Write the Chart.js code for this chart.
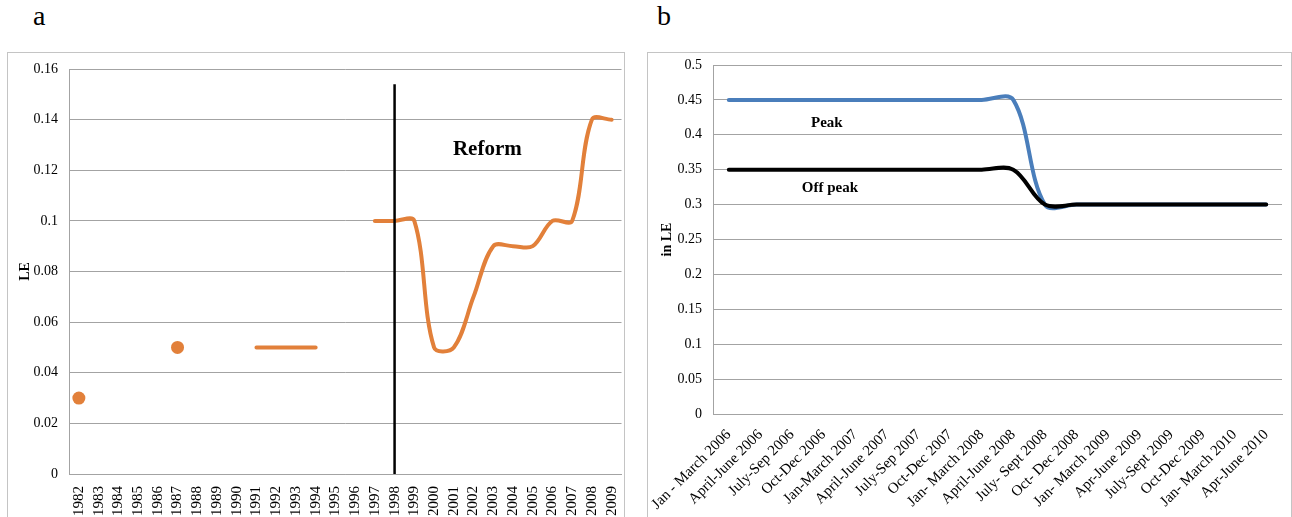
<!DOCTYPE html>
<html>
<head>
<meta charset="utf-8">
<script src="https://cdn.jsdelivr.net/npm/chart.js@4"></script>
<style>
  body { margin: 0; background: #fff; width: 1292px; height: 517px; overflow: hidden; position: relative; font-family: "Liberation Serif", serif; }
  .panel { position: absolute; top: 52px; height: 480px; border: 1px solid #c4c4c4; box-sizing: border-box; }
  .tag { position: absolute; top: 2px; font-size: 28px; line-height: 1; color: #000; }
  canvas { position: absolute; }
</style>
</head>
<body>
<div class="tag" style="left:33px">a</div>
<div class="tag" style="left:657px">b</div>
<div class="panel" style="left:7px; width:618px"></div>
<div class="panel" style="left:647px; width:645px"></div>
<canvas id="leChart" width="620" height="464" style="left:8px; top:53px"></canvas>
<canvas id="tariffChart" width="642" height="464" style="left:648px; top:53px"></canvas>
<script>
// panel a: LE by year
const years = ["1982","1983","1984","1985","1986","1987","1988","1989","1990","1991","1992","1993","1994","1995",
  "1996","1997","1998","1999","2000","2001","2002","2003","2004","2005","2006","2007","2008","2009"];
const leDots = [0.03,null,null,null,null,0.05,null,null,null,null,null,null,null,null,
  null,null,null,null,null,null,null,null,null,null,null,null,null,null];
const leLine = [null,null,null,null,null,null,null,null,null,0.05,0.05,0.05,0.05,null,
  null,0.1,0.1,0.1,0.05,0.05,0.07,0.09,0.09,0.09,0.1,0.1,0.14,0.14];
const reformYear = "1998";
const reformTop = 0.154;

// panel b: peak / off peak price
const quarters = ["Jan - March 2006","April-June 2006","July-Sep 2006","Oct-Dec 2006","Jan-March 2007",
  "April-June 2007","July-Sep 2007","Oct-Dec 2007","Jan- March 2008","April-June 2008","July- Sept 2008",
  "Oct- Dec 2008","Jan- March 2009","Apr-June 2009","July-Sept 2009","Oct-Dec 2009","Jan- March 2010","Apr-June 2010"];
const peak = [0.45,0.45,0.45,0.45,0.45,0.45,0.45,0.45,0.45,0.45,0.3,0.3,0.3,0.3,0.3,0.3,0.3,0.3];
const offPeak = [0.35,0.35,0.35,0.35,0.35,0.35,0.35,0.35,0.35,0.35,0.3,0.3,0.3,0.3,0.3,0.3,0.3,0.3];

// text labels inside the plots: [text, x index, y value]
const notesA = [["Reform", 20.7, 0.128]];
const notesB = [["Peak", 3.1, 0.417], ["Off peak", 3.2, 0.324]];

const orange = "#E2803A";
const gridGray = "#a3a3a3";
const serif = "Liberation Serif";

function notePlugin(notes, size) {
  return {
    id: 'notes',
    afterDatasetsDraw(chart) {
      const ctx = chart.ctx;
      const sx = chart.scales.x, sy = chart.scales.y;
      ctx.save();
      ctx.font = "bold " + size + "px " + serif;
      ctx.fillStyle = "#000";
      ctx.textAlign = "center";
      ctx.textBaseline = "middle";
      notes.forEach(n => ctx.fillText(n[0], sx.getPixelForValue(n[1]), sy.getPixelForValue(n[2])));
      ctx.restore();
    }
  };
}

// 0.10 -> "0.1", 0.50 -> "0.5"
const shortNum = v => String(+Number(v).toFixed(2));

// fixed axis sizes, no extra label padding so the plot area is where we want it
function fixX(h) {
  return s => { s.height = h; s.paddingLeft = 0; s.paddingRight = 0; };
}
function fixY(w) {
  return s => { s.width = w; s.paddingTop = 0; s.paddingBottom = 0; };
}

Chart.defaults.font.family = serif;
Chart.defaults.color = "#000";

new Chart(document.getElementById("leChart").getContext('2d'), {
  type: 'line',
  data: {
    labels: years,
    datasets: [
      {
        label: "reform",
        data: [{x: reformYear, y: 0}, {x: reformYear, y: reformTop}],
        borderColor: "#000", borderWidth: 2.5, pointRadius: 0, tension: 0, order: 0
      },
      {
        label: "LE",
        data: leLine,
        borderColor: orange, borderWidth: 4, pointRadius: 0, tension: 0.35,
        borderCapStyle: 'round', spanGaps: false, order: 1
      },
      {
        label: "LE points",
        data: leDots,
        showLine: false, pointRadius: 6.5, pointBackgroundColor: orange,
        pointBorderWidth: 0, borderColor: orange, order: 2
      }
    ]
  },
  options: {
    responsive: false,
    animation: false,
    layout: { padding: { top: 16, right: 3, left: 0, bottom: 0 } },
    plugins: { legend: { display: false }, tooltip: { enabled: false } },
    scales: {
      x: {
        offset: true,
        grid: { display: false },
        border: { display: true, color: gridGray },
        ticks: { autoSkip: false, minRotation: 90, maxRotation: 90, padding: 4, font: { size: 15 } },
        afterFit: fixX(43)
      },
      y: {
        min: 0, max: 0.16,
        grid: { color: gridGray, drawTicks: false },
        border: { color: gridGray },
        ticks: { stepSize: 0.02, padding: 11, font: { size: 14 }, callback: shortNum },
        title: { display: true, text: "LE", font: { size: 14, weight: 'bold' }, padding: { top: 9, bottom: 0 } },
        afterFit: fixY(61)
      }
    }
  },
  plugins: [notePlugin(notesA, 21)]
});

new Chart(document.getElementById("tariffChart").getContext('2d'), {
  type: 'line',
  data: {
    labels: quarters,
    datasets: [
      {
        label: "Off peak",
        data: offPeak,
        borderColor: "#000", borderWidth: 4, pointRadius: 0, tension: 0.35, borderCapStyle: 'round'
      },
      {
        label: "Peak",
        data: peak,
        borderColor: "#4A7EBB", borderWidth: 4, pointRadius: 0, tension: 0.35, borderCapStyle: 'round'
      }
    ]
  },
  options: {
    responsive: false,
    animation: false,
    layout: { padding: { top: 12, right: 8, left: 0, bottom: 0 } },
    plugins: { legend: { display: false }, tooltip: { enabled: false } },
    scales: {
      x: {
        offset: true,
        grid: { display: false },
        border: { display: true, color: gridGray },
        ticks: { autoSkip: false, minRotation: 45, maxRotation: 45, padding: 4, font: { size: 15 } },
        afterFit: fixX(103)
      },
      y: {
        min: 0, max: 0.5,
        grid: { color: gridGray, drawTicks: false },
        border: { color: gridGray },
        ticks: { stepSize: 0.05, padding: 11, font: { size: 14 }, callback: shortNum },
        title: { display: true, text: "in LE", font: { size: 14, weight: 'bold' }, padding: { top: 11, bottom: 0 } },
        afterFit: fixY(65)
      }
    }
  },
  plugins: [notePlugin(notesB, 15)]
});
</script>
</body>
</html>
